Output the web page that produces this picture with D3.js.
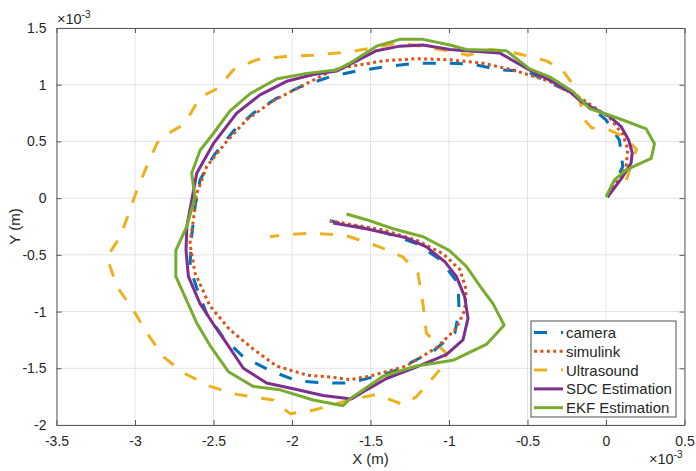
<!DOCTYPE html>
<html>
<head>
<meta charset="utf-8">
<script src="https://cdn.jsdelivr.net/npm/d3@7"></script>
<style>
  body { margin: 0; background: #fff; }
  svg { display: block; font-family: "Liberation Sans", Arial, Helvetica, sans-serif; }
</style>
</head>
<body>
<div id="chart"></div>
<script>
"use strict";

// all positions in units of 1e-3 m (axes show a x10^-3 multiplier)
var xTicks = [-3.5, -3, -2.5, -2, -1.5, -1, -0.5, 0, 0.5];
var yTicks = [-2, -1.5, -1, -0.5, 0, 0.5, 1, 1.5];

var camera = [[0.01,0.01],[0.107,0.28],[0.086,0.51],[0,0.69],[-0.105,0.81],[-0.253,0.95],
  [-0.508,1.12],[-0.677,1.13],[-0.847,1.18],[-1.017,1.19],[-1.208,1.19],[-1.399,1.16],
  [-1.59,1.12],[-1.758,1.07],[-1.95,0.98],[-2.098,0.88],[-2.246,0.75],[-2.374,0.59],
  [-2.501,0.37],[-2.586,0.16],[-2.618,-0.08],[-2.64,-0.35],[-2.65,-0.61],[-2.607,-0.79],
  [-2.543,-1.02],[-2.437,-1.23],[-2.31,-1.4],[-2.14,-1.52],[-1.971,-1.61],[-1.78,-1.63],
  [-1.632,-1.63],[-1.356,-1.53],[-1.101,-1.35],[-0.963,-1.19],[-0.936,-0.99],[-0.942,-0.75],
  [-1.059,-0.54],[-1.208,-0.4],[-1.42,-0.3],[-1.759,-0.2]];

var simulink = [[0.02,0.04],[0.128,0.28],[0.139,0.43],[0.107,0.56],[0.022,0.71],[-0.148,0.87],
  [-0.359,1.03],[-0.593,1.13],[-0.784,1.19],[-0.995,1.22],[-1.208,1.23],[-1.42,1.21],
  [-1.632,1.16],[-1.738,1.13],[-1.95,0.98],[-2.119,0.86],[-2.289,0.69],[-2.416,0.5],
  [-2.543,0.28],[-2.607,0.04],[-2.628,-0.19],[-2.65,-0.4],[-2.618,-0.66],[-2.523,-0.95],
  [-2.396,-1.16],[-2.247,-1.33],[-2.098,-1.48],[-1.907,-1.56],[-1.738,-1.58],[-1.632,-1.6],
  [-1.504,-1.57],[-1.272,-1.48],[-1.081,-1.32],[-0.954,-1.15],[-0.9,-0.99],[-0.89,-0.81],
  [-0.93,-0.63],[-1.038,-0.49],[-1.208,-0.37],[-1.42,-0.28],[-1.759,-0.2]];

var ultrasound = [[0.13,0.16],[0.194,0.43],[0.118,0.54],[0.022,0.6],[-0.092,0.62],[-0.137,0.69],
  [-0.169,0.87],[-0.22,1.02],[-0.277,1.13],[-0.379,1.21],[-0.519,1.26],[-0.646,1.3],
  [-0.741,1.31],[-0.881,1.26],[-0.964,1.29],[-1.059,1.31],[-1.231,1.35],[-1.314,1.37],
  [-1.466,1.33],[-1.632,1.29],[-1.865,1.26],[-2.034,1.25],[-2.225,1.22],[-2.33,1.16],
  [-2.374,1.13],[-2.47,0.97],[-2.586,0.89],[-2.67,0.69],[-2.713,0.63],[-2.829,0.54],
  [-2.861,0.48],[-2.925,0.28],[-2.988,0.07],[-3.031,-0.1],[-3.094,-0.34],[-3.179,-0.52],
  [-3.115,-0.78],[-3.009,-0.99],[-2.924,-1.19],[-2.818,-1.4],[-2.691,-1.54],[-2.522,-1.66],
  [-2.352,-1.73],[-2.119,-1.78],[-2.013,-1.9],[-1.865,-1.87],[-1.738,-1.82],[-1.632,-1.78],
  [-1.462,-1.73],[-1.293,-1.82],[-1.208,-1.75],[-1.038,-1.48],[-1.017,-1.37],[-1.144,-1.19],
  [-1.166,-0.93],[-1.198,-0.66],[-1.293,-0.52],[-1.441,-0.43],[-1.632,-0.34],[-1.738,-0.32],
  [-1.865,-0.31],[-2.034,-0.32],[-2.14,-0.34]];

var sdc = [[0.01,0.01],[0.107,0.19],[0.16,0.31],[0.167,0.4],[0.145,0.51],[0.097,0.63],
  [0.022,0.72],[-0.062,0.78],[-0.148,0.84],[-0.232,0.94],[-0.359,1.04],[-0.487,1.13],
  [-0.677,1.28],[-0.889,1.3],[-0.995,1.31],[-1.165,1.35],[-1.314,1.34],[-1.462,1.3],
  [-1.632,1.18],[-1.716,1.12],[-1.865,1.09],[-2.034,1.03],[-2.204,0.91],[-2.352,0.75],
  [-2.501,0.48],[-2.607,0.22],[-2.639,-0.02],[-2.67,-0.25],[-2.675,-0.46],[-2.66,-0.69],
  [-2.586,-0.93],[-2.501,-1.11],[-2.416,-1.28],[-2.31,-1.5],[-2.162,-1.63],[-1.992,-1.68],
  [-1.802,-1.74],[-1.621,-1.77],[-1.525,-1.69],[-1.398,-1.59],[-1.229,-1.5],[-1.017,-1.38],
  [-0.911,-1.25],[-0.879,-1.06],[-0.9,-0.87],[-0.953,-0.69],[-1.027,-0.56],[-1.144,-0.43],
  [-1.272,-0.35],[-1.526,-0.27],[-1.738,-0.22]];

var ekf = [[0,0.01],[0.054,0.16],[0.128,0.25],[0.288,0.35],[0.309,0.48],[0.256,0.61],
  [0.086,0.7],[-0.105,0.79],[-0.212,0.94],[-0.359,1.07],[-0.487,1.14],[-0.635,1.3],
  [-0.889,1.31],[-0.995,1.35],[-1.165,1.4],[-1.314,1.4],[-1.462,1.34],[-1.632,1.19],
  [-1.716,1.13],[-1.907,1.1],[-2.098,1.05],[-2.268,0.92],[-2.395,0.77],[-2.501,0.57],
  [-2.586,0.42],[-2.639,0.22],[-2.618,0.01],[-2.67,-0.25],[-2.74,-0.46],[-2.74,-0.69],
  [-2.607,-1.1],[-2.522,-1.3],[-2.405,-1.53],[-2.246,-1.66],[-2.076,-1.69],[-1.865,-1.78],
  [-1.675,-1.83],[-1.632,-1.77],[-1.42,-1.57],[-1.207,-1.48],[-0.975,-1.43],[-0.762,-1.29],
  [-0.649,-1.12],[-0.72,-0.93],[-0.795,-0.79],[-0.891,-0.6],[-0.999,-0.46],[-1.165,-0.34],
  [-1.356,-0.27],[-1.526,-0.19],[-1.653,-0.14]];

var seriesNames = ["camera", "simulink", "Ultrasound", "SDC Estimation", "EKF Estimation"];
var seriesData = [camera, simulink, ultrasound, sdc, ekf];
var seriesColors = ["#0072BD", "#D95319", "#EDB120", "#7E2F8E", "#77AC30"];
var seriesDash = ["13,14", "3,3.4", "13,14", null, null];

var W = 696, H = 471;
var margin = { top: 28, right: 11.5, bottom: 46, left: 56.5 },
    width = W - margin.left - margin.right,
    height = H - margin.top - margin.bottom;

var x = d3.scaleLinear().domain([-3.5, 0.5]).range([0, width]);
var y = d3.scaleLinear().domain([-2, 1.5]).range([height, 0]);

var svg = d3.select("#chart").append("svg")
    .attr("width", W)
    .attr("height", H);
var g = svg.append("g")
    .attr("transform", "translate(" + margin.left + "," + margin.top + ")");

// grid
g.append("g").selectAll("line").data(xTicks).enter().append("line")
    .attr("x1", function (d) { return x(d); })
    .attr("x2", function (d) { return x(d); })
    .attr("y1", 0).attr("y2", height)
    .attr("stroke", "#e3e3e3").attr("stroke-width", 1);
g.append("g").selectAll("line").data(yTicks).enter().append("line")
    .attr("y1", function (d) { return y(d); })
    .attr("y2", function (d) { return y(d); })
    .attr("x1", 0).attr("x2", width)
    .attr("stroke", "#e3e3e3").attr("stroke-width", 1);

// curves
var line = d3.line()
    .x(function (d) { return x(d[0]); })
    .y(function (d) { return y(d[1]); });

seriesData.forEach(function (pts, i) {
    g.append("path")
        .datum(pts)
        .attr("d", line)
        .attr("fill", "none")
        .attr("stroke", seriesColors[i])
        .attr("stroke-width", 3)
        .attr("stroke-linejoin", "round")
        .attr("stroke-dasharray", seriesDash[i]);
});

// axes, MATLAB-like box with inward ticks
function fmt(d) { return String(d); }
var axisColor = "#5a5a5a";

var xAxis = g.append("g").attr("transform", "translate(0," + height + ")")
    .call(d3.axisBottom(x).tickValues(xTicks).tickFormat(fmt).tickSizeInner(-5).tickSizeOuter(0).tickPadding(11));
var xTop = g.append("g")
    .call(d3.axisTop(x).tickValues(xTicks).tickFormat("").tickSizeInner(-5).tickSizeOuter(0));
var yAxis = g.append("g")
    .call(d3.axisLeft(y).tickValues(yTicks).tickFormat(fmt).tickSizeInner(-5).tickSizeOuter(0).tickPadding(10));
var yRight = g.append("g").attr("transform", "translate(" + width + ",0)")
    .call(d3.axisRight(y).tickValues(yTicks).tickFormat("").tickSizeInner(-5).tickSizeOuter(0));

[xAxis, xTop, yAxis, yRight].forEach(function (a) {
    a.select(".domain").attr("stroke", axisColor);
    a.selectAll(".tick line").attr("stroke", axisColor);
    a.selectAll(".tick text").attr("fill", "#262626")
        .style("font-size", "14px")
        .style("font-family", "'Liberation Sans', Arial, sans-serif");
});

// exponent labels
var expTop = svg.append("text")
    .attr("x", 57).attr("y", 23.5)
    .attr("fill", "#262626")
    .style("font-size", "14.5px");
expTop.append("tspan").text("\u00d710");
expTop.append("tspan").attr("dy", -6).style("font-size", "10px").text("-3");

var expBot = svg.append("text")
    .attr("x", 649).attr("y", 464)
    .attr("fill", "#262626")
    .style("font-size", "14.5px");
expBot.append("tspan").text("\u00d710");
expBot.append("tspan").attr("dy", -6).style("font-size", "10px").text("-3");

// axis labels
svg.append("text")
    .attr("x", margin.left + width / 2).attr("y", 464)
    .attr("text-anchor", "middle")
    .attr("fill", "#262626")
    .style("font-size", "15px")
    .text("X (m)");
svg.append("text")
    .attr("transform", "translate(19.5," + (margin.top + height / 2) + ") rotate(-90)")
    .attr("text-anchor", "middle")
    .attr("fill", "#262626")
    .style("font-size", "15px")
    .text("Y (m)");

// legend
var legend = svg.append("g").attr("transform", "translate(531,321)");
legend.append("rect")
    .attr("width", 145).attr("height", 96)
    .attr("fill", "#fff")
    .attr("stroke", "#262626").attr("stroke-width", 0.8);
seriesNames.forEach(function (name, i) {
    var ly = 11.5 + i * 18.8;
    legend.append("line")
        .attr("x1", 3).attr("x2", 32)
        .attr("y1", ly).attr("y2", ly)
        .attr("stroke", seriesColors[i])
        .attr("stroke-width", 3)
        .attr("stroke-dasharray", seriesDash[i]);
    legend.append("text")
        .attr("x", 35).attr("y", ly)
        .attr("dy", "0.36em")
        .attr("fill", "#262626")
        .style("font-size", "15px")
        .text(name);
});
</script>
</body>
</html>
